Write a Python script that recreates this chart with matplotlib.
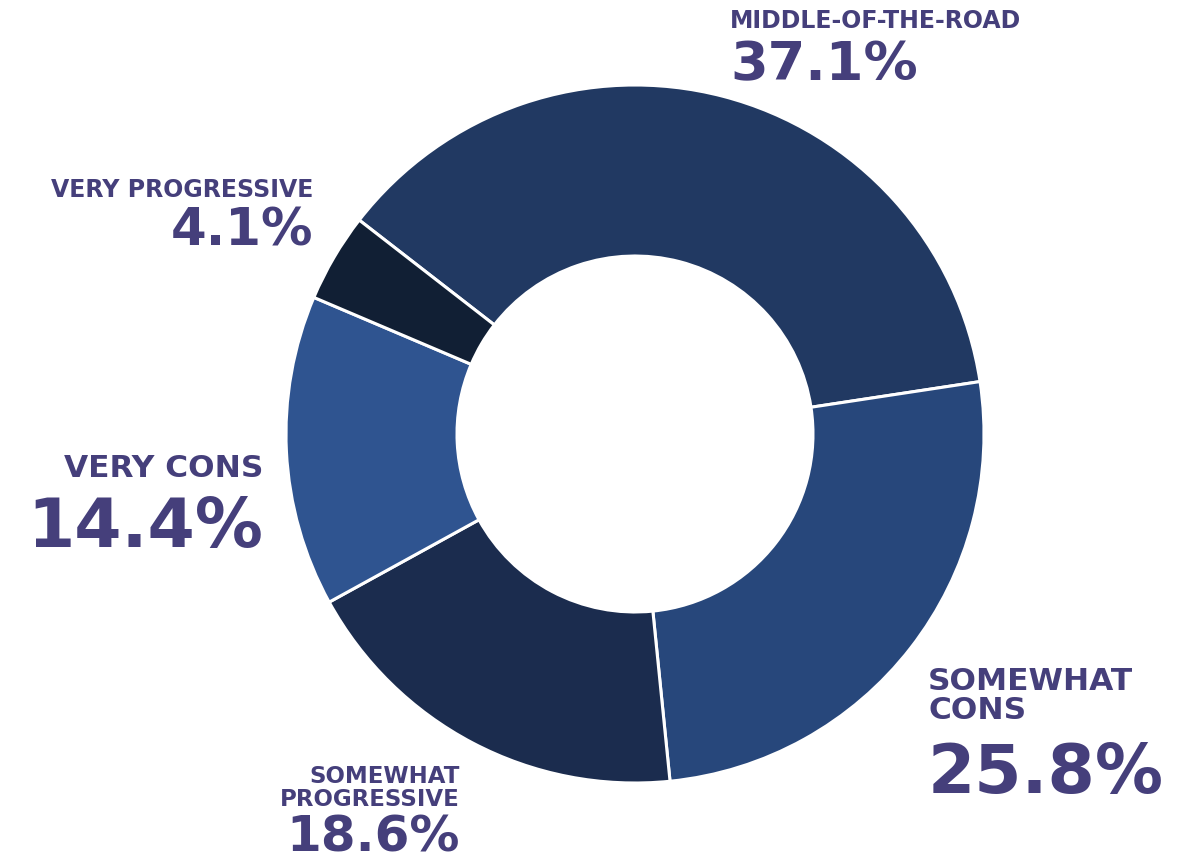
import matplotlib.pyplot as plt

# data (clockwise from upper-left)
categories = ["MIDDLE-OF-THE-ROAD", "SOMEWHAT\nCONS", "SOMEWHAT\nPROGRESSIVE",
              "VERY CONS", "VERY PROGRESSIVE"]
shares = [37.1, 25.8, 18.6, 14.4, 4.1]
colors = ["#213962", "#27477b", "#1b2c4e", "#2f5490", "#111f34"]

W, H = 1178, 860
TXT = "#453f7b"

fig = plt.figure(figsize=(W / 100, H / 100), dpi=100)

# donut centre / radius in pixels
cx, cy, r = 635, 434, 349
ax = fig.add_axes([(cx - r) / W, (H - cy - r) / H, 2 * r / W, 2 * r / H])
ax.pie(shares, colors=colors, startangle=142.2, counterclock=False,
       radius=1, wedgeprops=dict(width=0.49, edgecolor="white", linewidth=2.2))
ax.set_xlim(-1.0, 1.0)
ax.set_ylim(-1.0, 1.0)
ax.axis("off")


def put(x, y, s, size, ha="left", ls=1.0):
    fig.text(x / W, 1 - y / H, s, fontsize=size, fontweight="bold", color=TXT,
             ha=ha, va="baseline", family="DejaVu Sans", linespacing=ls)


# label layout: (x, label baseline, pct baseline, label size, pct size, align)
layout = [
    (730, 28, 80, 17, 39, "left"),
    (928, 719, 793, 22.5, 49, "left"),
    (460, 806, 852, 16.5, 36, "right"),
    (263, 477, 547, 22.5, 49, "right"),
    (313, 197, 245, 17, 37, "right"),
]
for cat, val, (x, yl, yp, sl, sp, ha) in zip(categories, shares, layout):
    put(x, yl, cat, sl, ha=ha, ls=1.0)
    put(x, yp, f"{val:.1f}%", sp, ha=ha)

fig.savefig("out.png", dpi=100, facecolor="white")
